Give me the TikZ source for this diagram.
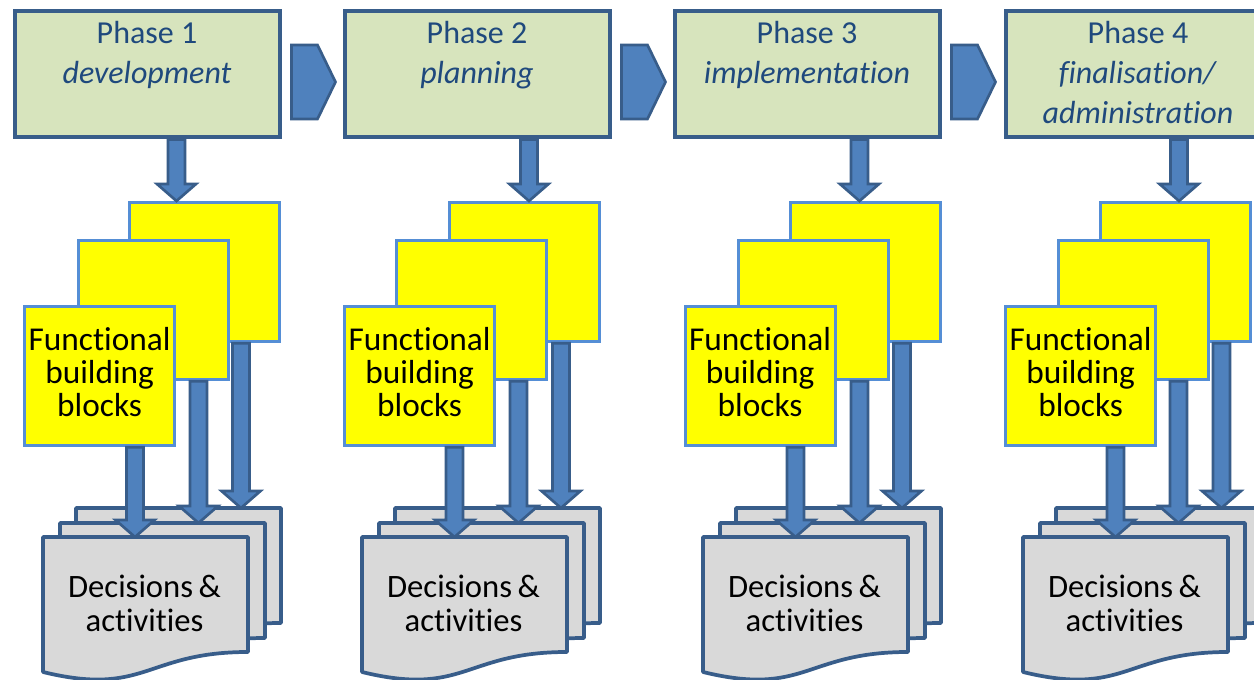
\documentclass[tikz,border=0pt]{standalone}
\usepackage{fontspec}
\setmainfont{Carlito}[Ligatures=CommonOff]
\usetikzlibrary{calc}
\definecolor{phasefill}{HTML}{D7E4BD}
\definecolor{dkblue}{HTML}{385D8A}
\definecolor{txtblue}{HTML}{1F497D}
\definecolor{accent}{HTML}{4F81BD}
\definecolor{ybord}{HTML}{558ED5}
\definecolor{docfill}{HTML}{D9D9D9}
\definecolor{yfill}{HTML}{FFFF00}
\newcommand\docpath[2]{\draw[docshape] (#1,#2) -- (#1+205,#2) -- (#1+205,#2+115) .. controls (#1+102.5,#2+115) and (#1+102.5,#2+160) .. (#1,#2+135) -- cycle;}
\newcommand\blockarr[2]{\draw[barrow] ($(#1)+(-8.5,0)$) -- ($(#2)+(-8.5,-17)$) -- ($(#2)+(-19.5,-17)$) -- (#2) -- ($(#2)+(19.5,-17)$) -- ($(#2)+(8.5,-17)$) -- ($(#1)+(8.5,0)$) -- cycle;}
\tikzset{
 phasebox/.style={draw=dkblue, line width=3pt, fill=phasefill, minimum width=198.75pt, minimum height=94.5pt, inner sep=0pt, anchor=north west},
 phasetext/.style={text=txtblue, font=\fontsize{24}{30}\selectfont, align=center, inner sep=0pt, anchor=base},
 ybox/.style={draw=ybord, line width=2.4pt, fill=yfill, minimum width=112.5pt, minimum height=104.25pt, inner sep=0pt, anchor=north west},
 ytext/.style={font=\fontsize{25}{25.1}\selectfont, align=center, inner sep=0pt, anchor=base},
 docshape/.style={draw=dkblue, line width=2.8pt, fill=docfill, line join=round},
 doctext/.style={font=\fontsize{24.5}{25.5}\selectfont, align=center, inner sep=0pt, anchor=base},
 barrow/.style={draw=dkblue, line width=2pt, fill=accent},
}
\begin{document}
\begin{tikzpicture}[x=0.75pt,y=-0.75pt]
\useasboundingbox[fill=white] (0,0) rectangle (1254,680);
\foreach \i/\pl/\da/\bl/\ml/\fl/\af/\am/\ab/\db/\dm/\df in {
 1/11/176.5/127/75.5/22/135/198.5/241/76/60/43,
 2/341/529/447/394/342/454.5/518.5/561/395/379/362,
 3/671/859.5/788/736/682.5/795.5/859.5/902/736/720/703,
 4/1002/1179/1098/1056/1003/1115.5/1178.5/1221.5/1056/1040/1023}{
 \coordinate (db\i) at (\db,508);
 \coordinate (dm\i) at (\dm,523);
 \coordinate (df\i) at (\df,537);
 \docpath{\db}{508}
 \docpath{\dm}{523}
 \docpath{\df}{537}
 \node[doctext] (dt\i) at ($(df\i)+(101.5,95)$) {Decisions\,\&\\activities};
 \node[ybox] (yb\i) at (\bl+1,201) {};
 \node[ybox] (ym\i) at (\ml+1,239) {};
 \node[ybox] (yf\i) at (\fl+1,305) {};
 \node[ytext] (yt\i) at ($(yf\i.north)+(0,112)$) {Functional\\building\\blocks};
 \coordinate (xf\i) at (\af,0);
 \coordinate (xm\i) at (\am,0);
 \coordinate (xb\i) at (\ab,0);
 \coordinate (xp\i) at (\da,0);
 \path (yf\i.south -| xf\i) coordinate (afs\i) (xf\i |- df\i) coordinate (aft\i);
 \path (ym\i.south -| xm\i) coordinate (ams\i) (xm\i |- dm\i) coordinate (amt\i);
 \path (yb\i.south -| xb\i) coordinate (abs\i) (xb\i |- db\i) coordinate (abt\i);
 \blockarr{abs\i}{abt\i}
 \blockarr{ams\i}{amt\i}
 \blockarr{afs\i}{aft\i}
 \node[phasebox] (p\i) at (\pl+1.5,9.5) {};
 \path (p\i.south -| xp\i) coordinate (aps\i) (xp\i |- yb\i.north) coordinate (apt\i);
 \blockarr{aps\i}{apt\i}
}
\coordinate (tb) at (0,84);
\coordinate (tc) at (0,124);
\node[phasetext] (t1) at (p1.north |- tb) {Phase 1\\\textit{development}};
\node[phasetext] (t2) at (p2.north |- tb) {Phase 2\\\textit{planning}};
\node[phasetext] (t3) at (p3.north |- tb) {Phase 3\\\textit{implementation}};
\node[phasetext] (t4) at (p4.north |- tc) {Phase 4\\\textit{finalisation/}\\\textit{administration}};
\foreach \i in {1,2,3}{
 \draw[barrow] ($(p\i.east)+(10,-29.5)$) -- ++(26,0) -- ++(18,37) -- ++(-18,37) -- ++(-26,0) -- cycle;
}
\end{tikzpicture}
\end{document}
